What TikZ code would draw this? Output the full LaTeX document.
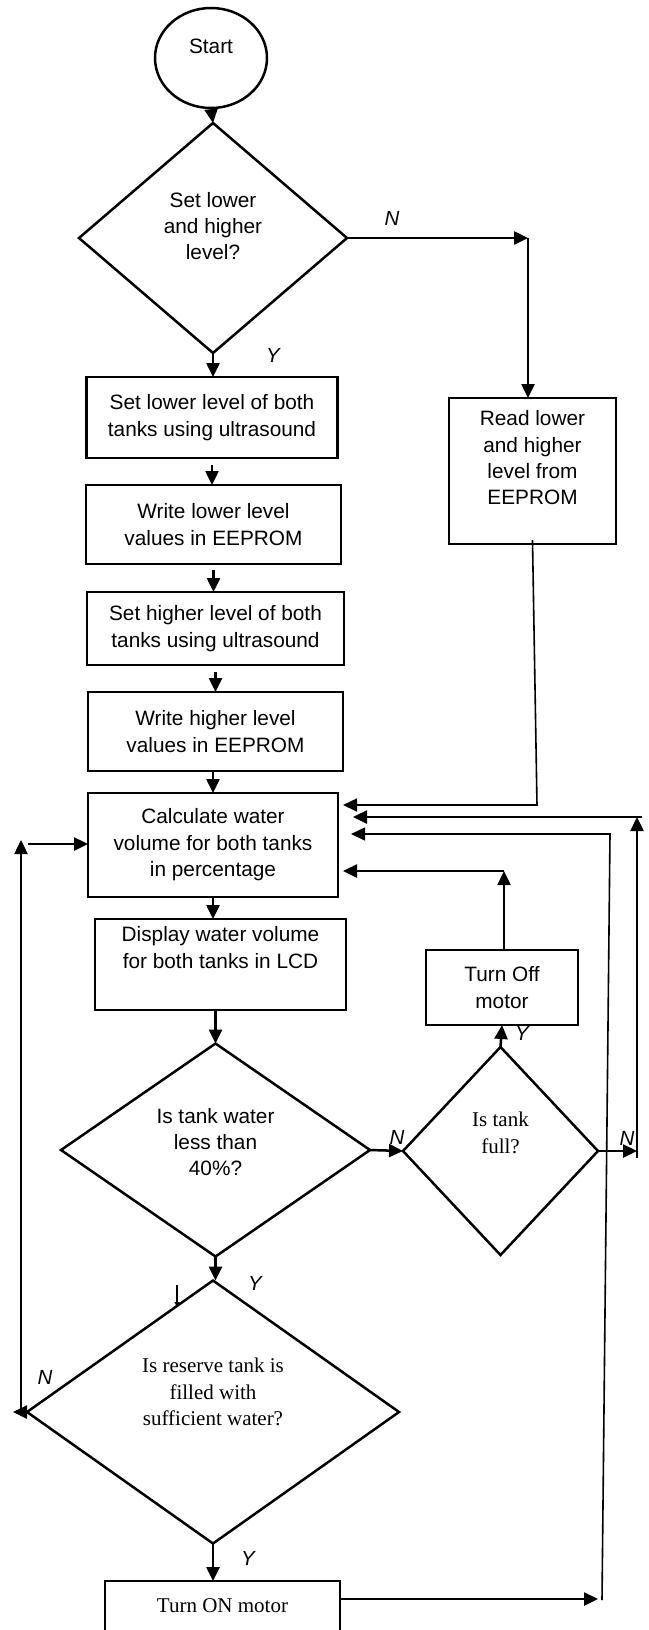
\documentclass[tikz,border=0pt]{standalone}
\usepackage{fontspec}
\setmainfont{Liberation Sans}
\newfontfamily\timesfont{Liberation Serif}
\usetikzlibrary{shapes.geometric,arrows.meta}
\tikzstyle{every node}=[font=\fontsize{20.8}{26.4}\selectfont]
\tikzstyle{procbox}=[draw, rectangle, line width=2.7pt, align=center, inner sep=0pt, outer sep=0pt]
\tikzstyle{decision}=[draw, diamond, line width=2.5pt, inner sep=0pt, outer sep=0pt]
\tikzstyle{termnode}=[draw, ellipse, line width=2.5pt, inner sep=0pt, outer sep=0pt]
\tikzstyle{flow}=[line width=2.5pt, -{Triangle[length=14pt,width=13pt]}]
\tikzstyle{thinflow}=[line width=1.6pt, -{Triangle[length=14pt,width=13pt]}]
\tikzstyle{yn}=[font=\fontsize{20.5}{24}\selectfont\itshape]
\tikzstyle{serif}=[font=\fontsize{21}{26.5}\selectfont\timesfont]

\begin{document}
\begin{tikzpicture}[x=1pt, y=-1pt]
\clip (0,0) rectangle (648,1630);
% Blocks
    \node[termnode, minimum width=112pt, minimum height=100pt,
          label={[name=starttxt, yshift=12pt]center:Start}] (start) at (211,58) {};
    \node[decision, minimum width=268pt, minimum height=230pt,
          label={[name=d1txt, align=center, yshift=12pt]center:Set lower\\and higher\\level?}] (d1) at (213,238) {};
    \node[procbox, minimum width=251pt, minimum height=81pt] (box1) at (212,417.5) {Set lower level of both\\tanks using ultrasound};
    \node[procbox, minimum width=255pt, minimum height=79pt] (box2) at (213.5,524.5) {Write lower level\\values in EEPROM};
    \node[procbox, minimum width=257pt, minimum height=73pt] (box3) at (215.5,628.5) {Set higher level of both\\tanks using ultrasound};
    \node[procbox, minimum width=255pt, minimum height=79pt] (box4) at (215.5,731.5) {Write higher level\\values in EEPROM};
    \node[procbox, minimum width=250pt, minimum height=104pt] (box5) at (213,845) {Calculate water\\volume for both tanks\\in percentage};
    \node[procbox, minimum width=251pt, minimum height=91pt] (box6) at (220.5,964.5) {Display water volume\\for both tanks in LCD\\[8pt]};
    \node[procbox, minimum width=167pt, minimum height=146pt] (read) at (532.5,471) {Read lower\\and higher\\level from\\EEPROM\\[0pt]};
    \node[procbox, minimum width=152pt, minimum height=75pt] (turnoff) at (502,987.5) {Turn Off\\motor};
% Decisions
    \node[decision, minimum width=309pt, minimum height=213pt,
          label={[name=d2txt, align=center, yshift=8pt]center:Is tank water\\less than\\40\%?}] (d2) at (215.5,1150) {};
    \node[decision, minimum width=195pt, minimum height=208pt,
          label={[name=d3txt, serif, align=center, yshift=18pt]center:Is tank\\full?}] (d3) at (500.5,1151) {};
    \node[decision, minimum width=372pt, minimum height=263pt,
          label={[name=d4txt, serif, align=center, yshift=20pt]center:Is reserve tank is\\filled with\\sufficient water?}] (d4) at (213,1412) {};
    \node[procbox, serif, minimum width=235pt, minimum height=50pt] (turnon) at (222.5,1606) {Turn ON motor};
% Yes / No marks
    \node[yn] (n1) at (392,218) {N};
    \node[yn] (y1) at (273,355) {Y};
    \node[yn] (n2) at (397,1137) {N};
    \node[yn] (y2) at (522,1033) {Y};
    \node[yn] (n3) at (627,1138) {N};
    \node[yn] (y3) at (255,1283) {Y};
    \node[yn] (n4) at (45,1377) {N};
    \node[yn] (y4) at (248,1558) {Y};
% Main path
    \draw[flow] (start.south) -- (d1.north);
    \draw[flow] (d1.south) -- (d1.south |- box1.north);
    \draw[flow, shorten <=7pt] (box1.south) -- (box1.south |- box2.north);
    \draw[flow, shorten <=6pt] (box2.south) -- (box2.south |- box3.north);
    \draw[flow, shorten <=7pt] (box3.south) -- (box3.south |- box4.north);
    \draw[flow] (box5.north |- box4.south) -- (box5.north);
    \draw[flow] (box5.south) -- (box5.south |- box6.north);
    \draw[flow] (d2.north |- box6.south) -- (d2.north);
    \draw[flow] (d2.south) -- (d2.south |- d4.north);
    \draw[flow] (d4.south) -- (d4.south |- turnon.north);
% Read from EEPROM
    \coordinate (ncorner) at (528,238);
    \draw[flow] (d1.east) -- (ncorner);
    \draw[flow] (ncorner) -- (ncorner |- read.north);
    \coordinate (rdbend) at (537,805);
    \draw[thinflow] ([yshift=4pt]read.south) -- (rdbend) -- ([xshift=5pt]box5.east |- rdbend);
% Tank full loop
    \draw[flow] (d2.east) -- (d3.west);
    \draw[flow] (d3.north) -- (turnoff.south);
    \coordinate (offtop) at (504,871);
    \draw[flow] (turnoff.north -| offtop) -- (offtop);
    \draw[flow] (offtop) -- ([xshift=5pt]box5.east |- offtop);
    \coordinate (fulln) at (637,1151);
    \coordinate (fulltop) at (637,817);
    \draw[flow] (d3.east) -- (fulln);
    \draw[flow] ([yshift=-7pt]fulln) -- (fulltop);
    \draw[flow] ([xshift=5pt]fulltop) -- ([xshift=15pt]box5.east |- fulltop);
% Motor on loop
    \coordinate (onend) at (598,1599);
    \coordinate (onbot) at (602,1600);
    \coordinate (ontop) at (610,834);
    \draw[flow] (turnon.east |- onend) -- (onend);
    \draw[thinflow] (onbot) -- (ontop) -- ([xshift=13pt]box5.east |- ontop);
% Reserve empty loop
    \coordinate (nleft) at (13,1412);
    \coordinate (lbot) at (21,1412);
    \coordinate (ltop) at (21,840);
    \coordinate (lhor) at (28,844);
    \draw[flow] (d4.west) -- (nleft);
    \draw[flow] (lbot) -- (ltop);
    \draw[flow] (lhor) -- (box5.west |- lhor);
% Stray tick
    \coordinate (ticka) at (177,1285);
    \coordinate (tickb) at (177,1307);
    \draw[line width=1.5pt, -{Triangle[length=5pt,width=5pt]}] (ticka) -- (tickb);
\end{tikzpicture}
\end{document}
